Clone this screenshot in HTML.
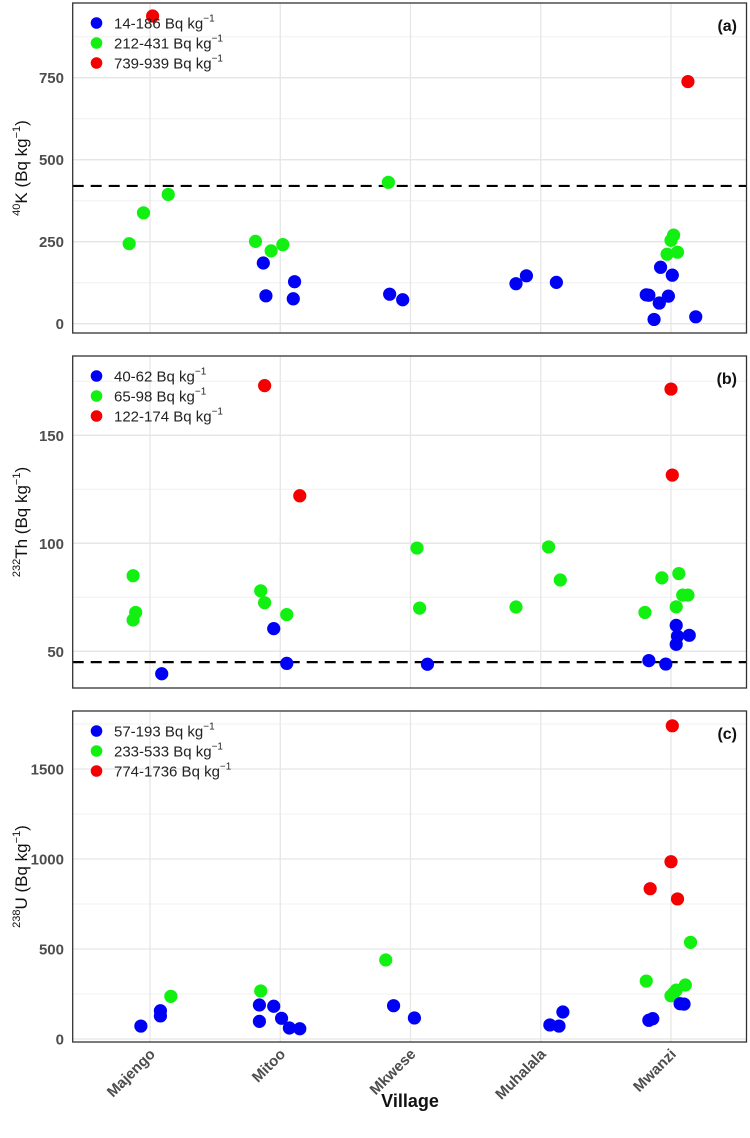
<!DOCTYPE html>
<html><head><meta charset="utf-8">
<style>
html,body{margin:0;padding:0;background:#fff;}
svg{display:block;font-family:"Liberation Sans",Arial,sans-serif;}
</style></head>
<body>
<svg id="chart" width="750" height="1138" viewBox="0 0 750 1138" xmlns="http://www.w3.org/2000/svg"></svg>
<script>
const villages = ["Majengo","Mitoo","Mkwese","Muhalala","Mwanzi"];
const colors = ["#0000f5","#11f011","#f50000"];

// Panel (a) 40K
const kVillage = [0,0,0,0, 1,1,1,1,1,1,1, 2,2,2, 3,3,3, 4,4,4,4,4,4,4,4,4,4,4,4,4];
const kJitter  = [0.02,-0.16,-0.05,0.14, -0.19,-0.07,0.02,-0.13,-0.11,0.11,0.10, -0.17,-0.16,-0.06, -0.19,-0.11,0.12, 0.13,0.02,0.00,-0.03,0.05,-0.08,0.01,-0.19,-0.17,-0.09,-0.02,-0.13,0.19];
const kValue   = [938,244,338,394, 251,222,241,185,85,128,76, 431,90,73, 122,146,126, 738,270,254,212,218,172,148,88,87,63,84,13,21];
const kGroup   = [2,1,1,1, 1,1,1,0,0,0,0, 1,0,0, 0,0,0, 2,1,1,1,1,0,0,0,0,0,0,0,0];
const kTicks = [0,250,500,750];
const kLegend = ["14-186","212-431","739-939"];

// Panel (b) 232Th
const thVillage = [0,0,0,0, 1,1,1,1,1,1,1, 2,2,2, 3,3,3, 4,4,4,4,4,4,4,4,4,4,4,4,4,4];
const thJitter  = [-0.13,-0.11,-0.13,0.09, -0.12,0.15,-0.15,-0.12,0.05,-0.05,0.05, 0.05,0.07,0.13, -0.19,0.06,0.15, 0.00,0.01,-0.07,0.06,0.09,0.13,0.04,-0.20,0.04,0.05,0.14,0.04,-0.17,-0.04];
const thValue   = [85,68,64.5,39.6, 173,122,78,72.5,67,60.5,44.4, 97.8,70,44, 70.5,98.3,83, 171.4,131.6,84,86,76,76,70.6,68,62,57,57.4,53.2,45.7,44.1];
const thGroup   = [1,1,1,0, 2,2,1,1,1,0,0, 1,1,0, 1,1,1, 2,2,1,1,1,1,1,1,0,0,0,0,0,0];
const thTicks = [50,100,150];
const thLegend = ["40-62","65-98","122-174"];

// Panel (c) 238U
const uVillage = [0,0,0,0, 1,1,1,1,1,1,1, 2,2,2, 3,3,3, 4,4,4,4,4,4,4,4,4,4,4,4,4,4];
const uJitter  = [-0.07,0.08,0.08,0.16, -0.15,-0.16,-0.05,-0.16,0.01,0.07,0.15, -0.19,-0.13,0.03, 0.07,0.14,0.17, 0.01,0.00,-0.16,0.05,0.15,-0.19,0.11,0.04,0.02,0.00,0.07,0.10,-0.17,-0.14];
const uValue   = [72,157,128,237, 267,189,182,98,115,61,57, 439,185,117, 78,72,150, 1740,985,835,778,537,322,300,272,254,240,196,194,104,113];
const uGroup   = [0,0,0,1, 1,0,0,0,0,0,0, 1,0,0, 0,0,0, 2,2,2,2,1,1,1,1,1,1,0,0,0,0];
const uTicks = [0,500,1000,1500];
const uLegend = ["57-193","233-533","774-1736"];

const NS="http://www.w3.org/2000/svg";
const svg=document.getElementById('chart');
function mk(tag,attrs,parent){const e=document.createElementNS(NS,tag);for(const k in attrs)e.setAttribute(k,attrs[k]);(parent||svg).appendChild(e);return e;}

const X0=150, XSTEP=130.25, PL=72.7, PR=746.5;
function xScale(v){return X0+v*XSTEP;}

function panel(cfg){
  const g=mk('g',{});
  
  
  const y=v=>cfg.y0px-(v-cfg.y0v)*cfg.k;
  const step=cfg.ticks[1]-cfg.ticks[0];
  for(let v=cfg.ticks[0]-step/2; y(v)>cfg.top; v+=step/2){
    if(y(v)<cfg.bottom){const l=mk('line',{x1:PL,x2:PR,y1:y(v),y2:y(v),stroke:'#f0f0f0','stroke-width':1},g);
    }
  }
  cfg.ticks.forEach(t=>{
    const l=mk('line',{x1:PL,x2:PR,y1:y(t),y2:y(t),stroke:'#e6e6e6','stroke-width':1.3},g);
    
    const tx=mk('text',{x:64,y:y(t)+5.5,'text-anchor':'end','font-size':15,'font-weight':'bold',fill:'#4d4d4d'},g);
    tx.textContent=t;
    
  });
  villages.forEach((v,i)=>{
    const l=mk('line',{x1:xScale(i),x2:xScale(i),y1:cfg.top,y2:cfg.bottom,stroke:'#e6e6e6','stroke-width':1.3},g);
    
  });
  if(cfg.ref!=null){
    const l=mk('line',{x1:PL,x2:PR,y1:y(cfg.ref),y2:y(cfg.ref),stroke:'#000','stroke-width':2.2,'stroke-dasharray':'11,7'},g);
    
  }
  for(let i=0;i<cfg.val.length;i++){
    const c=mk('circle',{cx:xScale(cfg.vil[i]+cfg.jit[i]),cy:y(cfg.val[i]),r:6.6,fill:colors[cfg.grp[i]]},g);
    
  }
  cfg.legend.forEach((lab,i)=>{
    const ly=cfg.top+20+i*20;
    const c=mk('circle',{cx:96.5,cy:ly,r:5.8,fill:colors[i]},g);
    
    const t=mk('text',{x:114,y:ly+5.5,'font-size':15,fill:'#222'},g);
    
    t.appendChild(document.createTextNode(lab+' Bq kg'));
    const s=mk('tspan',{dy:-7,'font-size':10},t);s.textContent='\u22121';
  });
  const pl=mk('text',{x:737,y:cfg.top+28,'text-anchor':'end','font-size':16,'font-weight':'bold',fill:'#111'},g);
  pl.textContent=cfg.label;
  
  const yt=mk('text',{transform:`translate(27,${(cfg.top+cfg.bottom)/2}) rotate(-90)`,'text-anchor':'middle','font-size':17,fill:'#111'},g);
  
  const s1=mk('tspan',{'font-size':11,dy:-7},yt);s1.textContent=cfg.iso;
  const s2=mk('tspan',{dy:7},yt);s2.textContent=cfg.el+' (Bq kg';
  const s3=mk('tspan',{'font-size':11,dy:-7},yt);s3.textContent='\u22121';
  const s4=mk('tspan',{dy:7},yt);s4.textContent=')';
  const b=mk('rect',{x:PL,y:cfg.top,width:PR-PL,height:cfg.bottom-cfg.top,fill:'none',stroke:'#333','stroke-width':1.3},g);
  
}

panel({name:'panel-a-potassium',top:3,bottom:333,y0v:0,y0px:323.7,k:0.328,ticks:kTicks,ref:420,
  vil:kVillage,jit:kJitter,val:kValue,grp:kGroup,legend:kLegend,label:'(a)',iso:'40',el:'K'});
panel({name:'panel-b-thorium',top:356,bottom:688,y0v:50,y0px:651.3,k:2.16,ticks:thTicks,ref:45,
  vil:thVillage,jit:thJitter,val:thValue,grp:thGroup,legend:thLegend,label:'(b)',iso:'232',el:'Th'});
panel({name:'panel-c-uranium',top:711,bottom:1042,y0v:0,y0px:1039,k:0.18,ticks:uTicks,ref:null,
  vil:uVillage,jit:uJitter,val:uValue,grp:uGroup,legend:uLegend,label:'(c)',iso:'238',el:'U'});

villages.forEach((v,i)=>{
  const t=mk('text',{transform:`translate(${xScale(i)+6},1055) rotate(-45)`,'text-anchor':'end','font-size':15,'font-weight':'bold',fill:'#4d4d4d'});
  t.textContent=v;
  
});
const xt=mk('text',{x:410,y:1107,'text-anchor':'middle','font-size':18,'font-weight':'bold',fill:'#111'});
xt.textContent='Village';

</script>
</body></html>
